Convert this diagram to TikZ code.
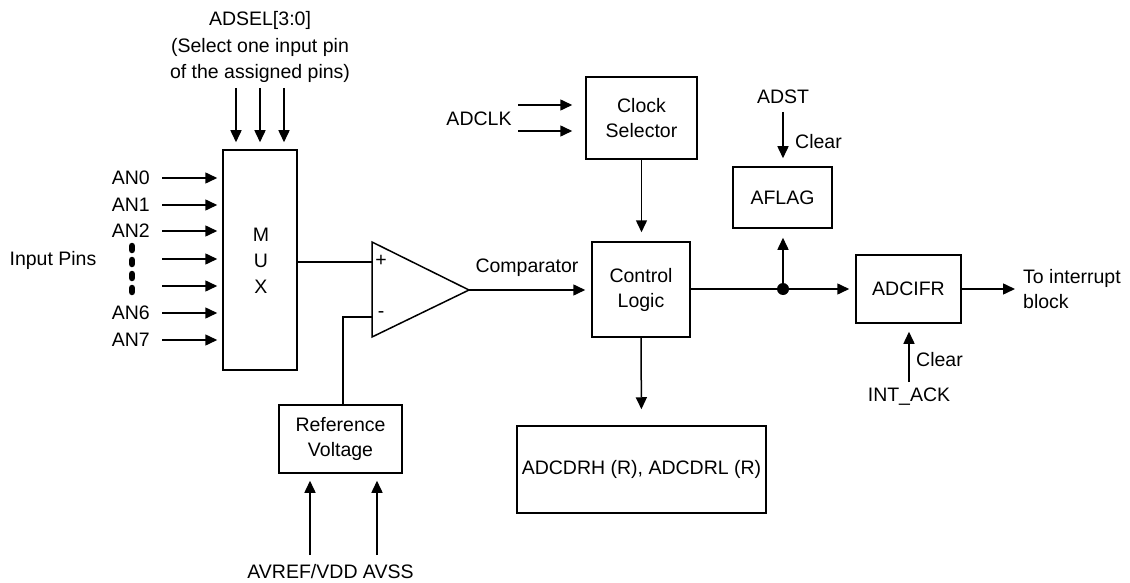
\documentclass[tikz,border=0pt]{standalone}
\usepackage{fontspec}
\setmainfont{Liberation Sans}
\usetikzlibrary{arrows.meta}
\begin{document}
\begin{tikzpicture}[x=1pt,y=-1pt,
  every node/.style={font=\fontsize{19.5}{23}\selectfont, inner sep=0pt},
  blk/.style={draw, line width=1.5pt, align=center},
  lbl/.style={align=center},
  conn/.style={line width=1.5pt},
  arr/.style={line width=1.5pt, -{Triangle[length=12pt,width=11pt]}}
]
\useasboundingbox (0,0) rectangle (1130,583);
% blocks
\node[blk, minimum width=74pt, minimum height=220pt] (mux) at (260,260) {};
\node (mM) at (261,235) {M};
\node (mU) at (261,261) {U};
\node (mX) at (261,287) {X};
\node[blk, minimum width=123pt, minimum height=68pt] (ref) at (340.5,439) {Reference\\[2pt]Voltage};
\node[blk, minimum width=111pt, minimum height=82pt] (clk) at (641.5,118) {Clock\\[2pt]Selector};
\node[blk, minimum width=98pt, minimum height=95pt] (ctl) at (641,289.5) {Control\\[2pt]Logic};
\node[blk, minimum width=249pt, minimum height=87pt] (dr) at (641.5,469.5) {ADCDRH (R), ADCDRL (R)};
\node[blk, minimum width=99pt, minimum height=61pt] (aflag) at (782.5,197.5) {AFLAG};
\node[blk, minimum width=105pt, minimum height=68pt] (ifr) at (908.5,289) {ADCIFR};
% comparator
\coordinate (cmpT) at (372,242);
\coordinate (cmpB) at (372,337);
\coordinate (cmpO) at (469,290);
\coordinate (cmpP) at (372,262);
\coordinate (cmpM) at (372,317);
\draw[conn, line join=miter] (cmpT) -- (cmpO) -- (cmpB) -- cycle;
\node (plus) at (381,261) {+};
\node (minus) at (381,315) {-};
% ADSEL
\node[lbl] (adsel) at (260,20) {ADSEL[3:0]};
\node[lbl] (adsel2) at (260,47) {(Select one input pin};
\node[lbl] (adsel3) at (260,73) {of the assigned pins)};
\foreach \x in {236,260,284} {
  \coordinate (s\x) at (\x,88);
  \draw[arr, shorten >=7pt] (s\x) -- (s\x |- mux.north);
}
% inputs
\node (inpins) at (53,260) {Input Pins};
\foreach \y/\t in {178/AN0,205/AN1,231/AN2,313/AN6,340/AN7} {
  \node[anchor=east] (l\t) at (150,\y) {\t};
}
\foreach \y in {178,205,231,259,286,313,340} {
  \coordinate (i\y) at (162,\y);
  \draw[arr, shorten >=5pt] (i\y) -- (i\y -| mux.west);
}
\coordinate (dotA) at (132,246);
\coordinate (dotB) at (132,298);
\draw[line width=6.5pt, line cap=round, dash pattern=on 4pt off 10pt] (dotA) -- (dotB);
% mux -> comparator
\draw[conn] (mux.east |- cmpP) -- (cmpP);
\coordinate (mk) at (343,317);
\draw[conn] (cmpM) -- (mk) -- (mk |- ref.north);
% ref inputs
\coordinate (vdd) at (310,555);
\coordinate (vss) at (377,555);
\draw[arr, shorten >=7pt] (vdd) -- (vdd |- ref.south);
\draw[arr, shorten >=7pt] (vss) -- (vss |- ref.south);
\node (avref) at (330.5,572) {AVREF/VDD AVSS};
% comparator -> control
\draw[arr, shorten >=6pt] (cmpO) -- (cmpO -| ctl.west);
\node (cmplbl) at (527,268) {Comparator};
% clock
\node (adclk) at (479,119) {ADCLK};
\coordinate (c1) at (518,105);
\coordinate (c2) at (518,131);
\draw[arr, shorten >=13pt] (c1) -- (c1 -| clk.west);
\draw[arr, shorten >=13pt] (c2) -- (c2 -| clk.west);
\draw[arr, shorten >=9pt] (clk.south) -- (clk.south |- ctl.north);
% control -> data regs
\draw[arr, shorten >=16pt] (ctl.south) -- (dr.north);
% control -> ADCIFR
\coordinate (jn) at (783,289);
\draw[conn] (ctl.east |- jn) -- (jn);
\draw[arr, shorten >=6pt] (jn) -- (jn -| ifr.west);
\fill (jn) circle (6pt);
\draw[arr, shorten >=9pt] (jn) -- (jn |- aflag.south);
% ADST
\node (adst) at (783,97) {ADST};
\coordinate (adstA) at (783,112);
\draw[arr, shorten >=8pt] (adstA) -- (adstA |- aflag.north);
\node[anchor=west] (clr1) at (795,142) {Clear};
% output
\coordinate (outE) at (1015,289);
\draw[arr] (ifr.east) -- (outE);
\node[anchor=west, align=left] (toint) at (1023,289.5) {To interrupt\\[2pt]block};
% INT_ACK
\coordinate (ack) at (909,382);
\draw[arr, shorten >=8pt] (ack) -- (ack |- ifr.south);
\node[anchor=west] (clr2) at (916,360) {Clear};
\node (intack) at (909,397) {INT\_ACK};
\end{tikzpicture}
\end{document}
